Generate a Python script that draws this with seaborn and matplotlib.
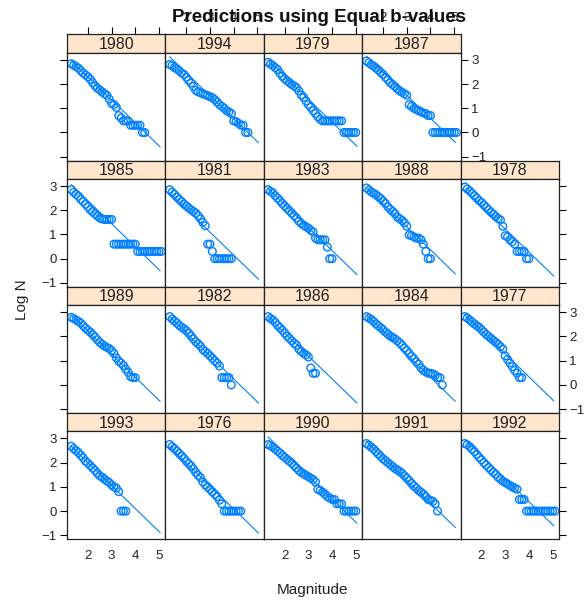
import matplotlib
matplotlib.use("Agg")
import matplotlib.pyplot as plt
import pandas as pd
import seaborn as sns

# magnitude bins shared by every year (step 0.1)
mags = [1.3, 1.4, 1.5, 1.6, 1.7, 1.8, 1.9, 2.0, 2.1, 2.2,
        2.3, 2.4, 2.5, 2.6, 2.7, 2.8, 2.9, 3.0, 3.1, 3.2,
        3.3, 3.4, 3.5, 3.6, 3.7, 3.8, 3.9, 4.0, 4.1, 4.2,
        4.3, 4.4, 4.5, 4.6, 4.7, 4.8, 4.9, 5.0, 5.1]

# observed log N per year (one value per bin, starting at 1.3)
n1980 = [2.84, 2.78, 2.72, 2.66, 2.55, 2.45, 2.38, 2.30, 2.20, 2.06, 1.93, 1.83, 1.76, 1.68, 1.60, 1.54,
         1.38, 1.20, 1.15, 1.04, 0.70, 0.60, 0.48, 0.48, 0.48, 0.30, 0.30, 0.30, 0.30, 0.30, 0.00, 0.00]
n1994 = [2.81, 2.76, 2.68, 2.62, 2.55, 2.46, 2.40, 2.28, 2.16, 2.04, 1.90, 1.74, 1.68, 1.64, 1.60, 1.56,
         1.52, 1.48, 1.43, 1.36, 1.26, 1.15, 1.08, 1.00, 0.90, 0.85, 0.78, 0.48, 0.45, 0.38, 0.30, 0.30,
         0.00, 0.00]
n1979 = [2.90, 2.83, 2.76, 2.68, 2.60, 2.45, 2.32, 2.22, 2.14, 2.06, 1.98, 1.92, 1.85, 1.72, 1.55, 1.45,
         1.30, 1.15, 1.04, 0.90, 0.78, 0.65, 0.54, 0.48, 0.48, 0.48, 0.48, 0.48, 0.48, 0.48, 0.48, 0.48,
         0.00, 0.00, 0.00, 0.00, 0.00, 0.00]
n1987 = [2.95, 2.88, 2.80, 2.74, 2.66, 2.58, 2.48, 2.40, 2.28, 2.18, 2.06, 1.98, 1.90, 1.80, 1.72, 1.66,
         1.60, 1.54, 1.15, 1.08, 1.00, 0.95, 0.90, 0.85, 0.81, 0.78, 0.70, 0.70, 0.00, 0.00, 0.00, 0.00,
         0.00, 0.00, 0.00, 0.00, 0.00, 0.00, 0.00]
n1985 = [2.85, 2.74, 2.66, 2.58, 2.45, 2.36, 2.25, 2.14, 2.02, 1.94, 1.85, 1.76, 1.68, 1.64, 1.62, 1.62,
         1.62, 1.62, 0.60, 0.60, 0.60, 0.60, 0.60, 0.60, 0.60, 0.60, 0.60, 0.60, 0.30, 0.30, 0.30, 0.30,
         0.30, 0.30, 0.30, 0.30, 0.30, 0.30, 0.30]
n1981 = [2.85, 2.74, 2.66, 2.55, 2.45, 2.36, 2.26, 2.18, 2.10, 2.02, 1.95, 1.88, 1.78, 1.65, 1.50, 1.36,
         0.60, 0.60, 0.30, 0.00, 0.00, 0.00, 0.00, 0.00, 0.00, 0.00, 0.00]
n1983 = [2.85, 2.78, 2.72, 2.60, 2.50, 2.40, 2.28, 2.18, 2.08, 1.98, 1.88, 1.78, 1.68, 1.55, 1.45, 1.38,
         1.32, 1.26, 1.18, 1.10, 0.85, 0.78, 0.78, 0.78, 0.78, 0.48, 0.00, 0.00]
n1988 = [2.92, 2.84, 2.76, 2.70, 2.64, 2.56, 2.48, 2.38, 2.28, 2.14, 2.04, 1.95, 1.86, 1.72, 1.65, 1.58,
         1.48, 1.34, 0.98, 0.95, 0.90, 0.85, 0.85, 0.78, 0.60, 0.30, 0.00, 0.00]
n1978 = [2.96, 2.88, 2.80, 2.70, 2.60, 2.50, 2.40, 2.32, 2.22, 2.12, 2.02, 1.92, 1.84, 1.74, 1.66, 1.60,
         1.34, 0.95, 0.90, 0.78, 0.70, 0.60, 0.30, 0.30, 0.30, 0.30, 0.00, 0.00]
n1989 = [2.79, 2.74, 2.68, 2.62, 2.55, 2.45, 2.34, 2.26, 2.18, 2.08, 1.98, 1.86, 1.76, 1.68, 1.60, 1.55,
         1.50, 1.42, 1.30, 1.12, 0.98, 0.90, 0.80, 0.65, 0.52, 0.34, 0.30, 0.30]
n1982 = [2.82, 2.72, 2.64, 2.56, 2.46, 2.38, 2.32, 2.24, 2.14, 2.02, 1.90, 1.78, 1.70, 1.60, 1.46, 1.38,
         1.30, 1.20, 1.10, 1.00, 0.90, 0.78, 0.30, 0.30, 0.30, 0.30, 0.00]
n1986 = [2.82, 2.74, 2.68, 2.58, 2.46, 2.36, 2.26, 2.14, 2.02, 1.92, 1.82, 1.72, 1.64, 1.48, 1.38, 1.30,
         1.24, 1.15, 0.70, 0.48, 0.48]
n1984 = [2.82, 2.76, 2.70, 2.62, 2.52, 2.44, 2.36, 2.28, 2.18, 2.10, 2.02, 1.96, 1.90, 1.82, 1.74, 1.64,
         1.52, 1.42, 1.30, 1.18, 1.08, 0.95, 0.85, 0.70, 0.60, 0.54, 0.48, 0.48, 0.45, 0.40, 0.30, 0.30,
         0.00]
n1977 = [2.82, 2.76, 2.68, 2.60, 2.52, 2.44, 2.38, 2.28, 2.18, 2.08, 2.00, 1.92, 1.84, 1.76, 1.68, 1.58,
         1.48, 1.20, 1.05, 0.90, 0.75, 0.60, 0.48, 0.30, 0.30]
n1993 = [2.68, 2.58, 2.50, 2.42, 2.30, 2.20, 2.06, 1.98, 1.88, 1.78, 1.68, 1.56, 1.46, 1.40, 1.32, 1.24,
         1.18, 1.08, 1.00, 0.95, 0.80, 0.00, 0.00, 0.00]
n1976 = [2.75, 2.66, 2.58, 2.48, 2.38, 2.28, 2.18, 2.06, 1.96, 1.86, 1.74, 1.60, 1.48, 1.38, 1.20, 1.08,
         1.00, 0.90, 0.80, 0.70, 0.60, 0.45, 0.30, 0.00, 0.00, 0.00, 0.00, 0.00, 0.00, 0.00, 0.00]
n1990 = [2.75, 2.70, 2.64, 2.56, 2.48, 2.40, 2.30, 2.22, 2.14, 2.06, 1.98, 1.88, 1.78, 1.68, 1.60, 1.54,
         1.48, 1.42, 1.36, 1.30, 1.20, 0.90, 0.85, 0.78, 0.70, 0.60, 0.54, 0.48, 0.48, 0.30, 0.30, 0.30,
         0.00, 0.00, 0.00, 0.00, 0.00, 0.00]
n1991 = [2.79, 2.72, 2.64, 2.56, 2.46, 2.36, 2.26, 2.16, 2.08, 2.00, 1.92, 1.84, 1.76, 1.70, 1.64, 1.56,
         1.46, 1.36, 1.26, 1.14, 1.04, 0.95, 0.85, 0.78, 0.70, 0.60, 0.48, 0.45, 0.40, 0.30, 0.00]
n1992 = [2.79, 2.74, 2.66, 2.56, 2.46, 2.34, 2.22, 2.12, 2.00, 1.90, 1.80, 1.70, 1.60, 1.52, 1.40, 1.32,
         1.24, 1.18, 1.12, 1.06, 1.00, 0.95, 0.90, 0.48, 0.48, 0.48, 0.00, 0.00, 0.00, 0.00, 0.00, 0.00,
         0.00, 0.00, 0.00, 0.00, 0.00, 0.00, 0.00]

# panel order, top row first (lattice fills from the bottom left)
layout = [
    [1980, 1994, 1979, 1987],
    [1985, 1981, 1983, 1988, 1978],
    [1989, 1982, 1986, 1984, 1977],
    [1993, 1976, 1990, 1991, 1992],
]
observed = {1980: n1980, 1994: n1994, 1979: n1979, 1987: n1987, 1985: n1985,
            1981: n1981, 1983: n1983, 1988: n1988, 1978: n1978, 1989: n1989,
            1982: n1982, 1986: n1986, 1984: n1984, 1977: n1977, 1993: n1993,
            1976: n1976, 1990: n1990, 1991: n1991, 1992: n1992}

# predicted line (equal b-value), value at mag 1.3 and at mag 5.05
line_mag = [1.3, 5.05]
pred_start = {1980: 2.96, 1994: 3.13, 1979: 2.99, 1987: 3.15, 1985: 3.06,
              1981: 2.71, 1983: 2.90, 1988: 2.93, 1978: 2.84, 1989: 2.88,
              1982: 2.81, 1986: 2.81, 1984: 2.88, 1977: 2.90, 1993: 2.67,
              1976: 2.65, 1990: 3.06, 1991: 2.88, 1992: 2.95}
pred_end = {1980: -0.60, 1994: -0.43, 1979: -0.57, 1987: -0.41, 1985: -0.50,
            1981: -0.85, 1983: -0.66, 1988: -0.63, 1978: -0.72, 1989: -0.68,
            1982: -0.75, 1986: -0.75, 1984: -0.68, 1977: -0.66, 1993: -0.89,
            1976: -0.91, 1990: -0.50, 1991: -0.68, 1992: -0.61}

rows = []
for yr, vals in observed.items():
    for m, v in zip(mags, vals):
        rows.append({"year": yr, "mag": m, "logN": v})
df = pd.DataFrame(rows)

sns.set_theme(style="white")
plt.rcParams["font.family"] = ["Liberation Sans", "DejaVu Sans"]

W, H = 588, 601
fig = plt.figure(figsize=(W / 100, H / 100), dpi=100)

def rect(x0, top, w, h):
    return [x0 / W, 1 - (top + h) / H, w / W, h / H]

blue = "#0080ff"
strip_col = "#ffe5cc"
col_left = [67, 165.4, 263.8, 362.2, 460.6]
pw = 98.4
pitch, strip_h, panel_h = 126.2, 18.4, 107.8
xlim = (1.12, 5.27)
ylim = (-1.16, 3.29)
xt = [2, 3, 4, 5]
yt = [-1, 0, 1, 2, 3]
tick_kw = dict(direction="out", length=5, width=0.8, color="black",
               labelsize=9.5, pad=2.5, labelcolor="#222222")

for r, row in enumerate(layout):
    strip_top = 34.4 + r * pitch
    for c, yr in enumerate(row):
        # strip
        sax = fig.add_axes(rect(col_left[c], strip_top, pw, strip_h))
        sax.set_facecolor(strip_col)
        sax.set_xlim(xlim)
        sax.set_ylim(0, 1)
        sax.text(0.5, 0.45, str(yr), transform=sax.transAxes, ha="center",
                 va="center", fontsize=11.5, color="#222222")
        sax.set_yticks([])
        for s in sax.spines.values():
            s.set_color("#222222")
            s.set_linewidth(0.9)
        if r == 0:
            sax.set_xticks(xt)
            sax.xaxis.tick_top()
            sax.tick_params(axis="x", **tick_kw)
            if c not in (1, 3):
                sax.set_xticklabels([])
        else:
            sax.set_xticks([])

        # panel
        ax = fig.add_axes(rect(col_left[c], strip_top + strip_h, pw, panel_h))
        d = df[df["year"] == yr]
        sns.lineplot(x=line_mag, y=[pred_start[yr], pred_end[yr]], ax=ax,
                     color=blue, linewidth=0.8)
        sns.scatterplot(data=d, x="mag", y="logN", ax=ax, marker="o",
                        facecolor="none", edgecolor=blue, linewidth=1.0, s=30)
        ax.set_xlim(xlim)
        ax.set_ylim(ylim)
        ax.set_xlabel("")
        ax.set_ylabel("")
        for s in ax.spines.values():
            s.set_color("#222222")
            s.set_linewidth(0.9)

        # x axis at the bottom row only
        if r == 3:
            ax.set_xticks(xt)
            ax.tick_params(axis="x", **tick_kw)
            if c not in (0, 2, 4):
                ax.set_xticklabels([])
        else:
            ax.set_xticks([])

        # y axis: left on first column, right on last column of each row
        right_col = len(row) - 1
        if c == 0 or c == right_col:
            ax.set_yticks(yt)
            if c == 0:
                ax.yaxis.tick_left()
                ax.tick_params(axis="y", **tick_kw)
                if r not in (1, 3):
                    ax.set_yticklabels([])
            else:
                ax.yaxis.tick_right()
                ax.tick_params(axis="y", **tick_kw)
                if r not in (0, 2):
                    ax.set_yticklabels([])
        else:
            ax.set_yticks([])

fig.text(319 / W, 1 - 17.5 / H, "Predictions using Equal b-values",
         ha="center", va="center", fontsize=13.5, fontweight="bold",
         color="#111111")
fig.text(22 / W, 1 - 300 / H, "Log N", rotation=90, ha="center",
         va="center", fontsize=11, color="#222222")
fig.text(312 / W, 1 - 590 / H, "Magnitude", ha="center", va="center",
         fontsize=11, color="#222222")

fig.savefig("out.png", dpi=100)
